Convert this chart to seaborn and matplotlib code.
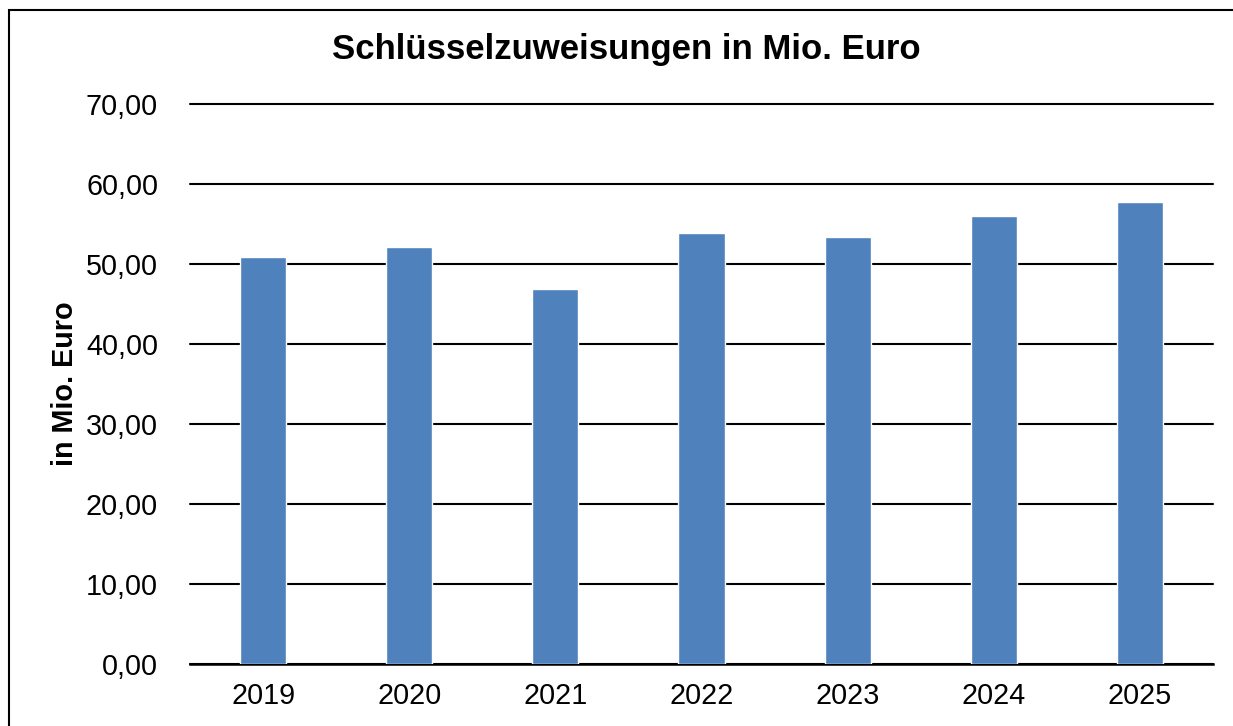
import numpy as np
import pandas as pd
import matplotlib
matplotlib.use("Agg")
import matplotlib.pyplot as plt
import seaborn as sns
from matplotlib.patches import Rectangle

# Daten
jahre = ["2019", "2020", "2021", "2022", "2023", "2024", "2025"]
werte = [50.84, 52.08, 46.90, 53.83, 53.34, 56.05, 57.70]
y_ticks = [0, 10, 20, 30, 40, 50, 60, 70]
y_labels = ["0,00", "10,00", "20,00", "30,00", "40,00", "50,00", "60,00", "70,00"]

df = pd.DataFrame({"jahr": jahre, "wert": werte})

sns.set_style("white")
plt.rcParams["font.family"] = ["Liberation Sans", "DejaVu Sans"]
plt.rcParams["text.color"] = "black"
plt.rcParams["axes.labelcolor"] = "black"
plt.rcParams["xtick.color"] = "black"
plt.rcParams["ytick.color"] = "black"

fig = plt.figure(figsize=(12.33, 7.26), dpi=100)
ax = fig.add_axes([190 / 1233, 1 - 664 / 726, (1213 - 190) / 1233, (664 - 104) / 726])

sns.barplot(data=df, x="jahr", y="wert", color="#4f81bd", width=0.315,
            saturation=1, ax=ax, zorder=3)

ax.set_ylim(0, 70)
ax.set_xlim(-0.5, len(jahre) - 0.5)
ax.set_yticks(y_ticks)
ax.set_yticklabels(y_labels)
ax.yaxis.grid(True, color="black", linewidth=1.5, zorder=0)
for gl in ax.get_ygridlines():
    gl.set_clip_on(False)
ax.set_axisbelow(True)
for side in ["top", "right", "left"]:
    ax.spines[side].set_visible(False)
ax.spines["bottom"].set_color("black")
ax.spines["bottom"].set_linewidth(1.8)
ax.tick_params(axis="y", length=0, pad=23, labelsize=20.7, labelcolor="black")
ax.tick_params(axis="x", length=0, pad=13, labelsize=20.7, labelcolor="black")
ax.set_xlabel("")
ax.set_ylabel("in Mio. Euro", fontsize=20.7, fontweight="bold", color="black")
ax.yaxis.set_label_coords(-111 / 1023, 0.5)

fig.text(626 / 1233, 1 - 50 / 726, "Schlüsselzuweisungen in Mio. Euro",
         ha="center", va="center", fontsize=25, fontweight="bold", color="black")

# Rahmen des Diagramms
fig.patches.append(Rectangle((9 / 1233, -0.1), 1.2, 1 - 10 / 726 + 0.1,
                             transform=fig.transFigure, fill=False,
                             edgecolor="black", linewidth=1.5))

fig.savefig("out.png", dpi=100)
